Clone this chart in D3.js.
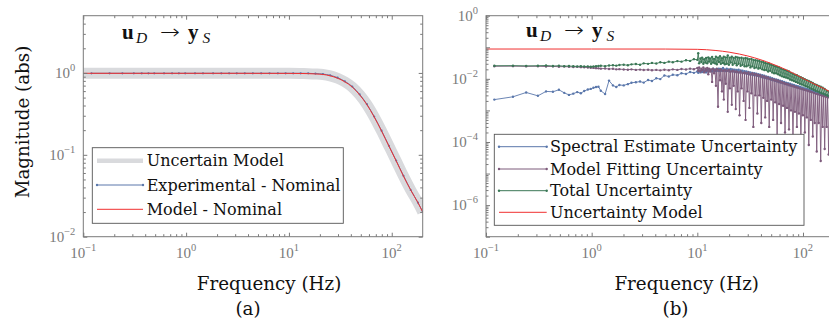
<!DOCTYPE html>
<html>
<head>
<meta charset="utf-8">
<script src="https://cdn.jsdelivr.net/npm/d3@7"></script>
<style>
  body { margin: 0; background: #fff; }
</style>
</head>
<body>
<svg id="chart" width="829" height="321"></svg>
<script>
// ---------- panel (a) data ----------
const freqModelA = [0.1, 0.3, 1, 3, 10, 13, 15.4, 18.1, 21.4, 25.2, 29.7, 35, 41.3, 48.7, 57.3, 67.5, 79.6, 93.8, 110.5, 130, 153, 180, 200];
const modelA = [0.99, 0.99, 0.99, 0.99, 0.988, 0.985, 0.98, 0.972, 0.958, 0.922, 0.862, 0.778, 0.672, 0.54, 0.41, 0.29, 0.195, 0.128, 0.084, 0.055, 0.037, 0.026, 0.02];

const freqExpA = [0.12, 0.18, 0.24, 0.31, 0.37, 0.43, 0.49, 0.61, 0.73, 0.85, 0.98, 1.22, 1.46, 1.83, 2.2, 2.62, 3.11, 3.72, 4.46, 5.37,
  6.47, 7.81, 9.28, 11, 13, 15.4, 18.1, 21.4, 25.2, 29.7, 35, 41.3, 48.7, 57.3, 67.5, 79.6, 93.8, 110.5, 130, 153, 180, 200];
const expA = [0.99, 0.99, 0.99, 0.99, 0.99, 0.99, 0.99, 0.99, 0.99, 0.99, 0.99, 0.99, 0.99, 0.99, 0.99, 0.99, 0.99, 0.99, 0.99, 0.99,
  0.99, 0.99, 0.99, 0.99, 0.99, 0.988, 0.982, 0.968, 0.935, 0.875, 0.79, 0.682, 0.548, 0.415, 0.293, 0.197, 0.129, 0.085, 0.0555, 0.0372, 0.026, 0.0201];

// ---------- panel (b) data ----------
const freqB = [0.12, 0.18, 0.24, 0.31, 0.37, 0.43, 0.49, 0.55, 0.61, 0.67, 0.73, 0.79, 0.85, 0.92, 0.98, 1.04, 1.1, 1.16, 1.22, 1.34,
  1.46, 1.59, 1.71, 1.83, 2.01, 2.2, 2.38, 2.62, 2.87, 3.11, 3.42, 3.72, 4.09, 4.46, 4.88, 5.37, 5.86, 6.47, 7.08, 7.81, 8.54, 9.28,
  10, 10.2, 10.4, 10.7, 10.9, 11.1, 11.4, 11.6, 11.9, 12.1,
  12.4, 12.7, 12.9, 13.2, 13.5, 13.8, 14.1, 14.4, 14.7, 15,
  15.3, 15.7, 16, 16.4, 16.7, 17.1, 17.5, 17.8, 18.2, 18.6,
  19, 19.4, 19.9, 20.3, 20.7, 21.2, 21.6, 22.1, 22.6, 23.1,
  23.6, 24.1, 24.6, 25.1, 25.7, 26.2, 26.8, 27.4, 28, 28.6,
  29.2, 29.8, 30.5, 31.1, 31.8, 32.5, 33.2, 33.9, 34.7, 35.4,
  36.2, 37, 37.8, 38.6, 39.4, 40.3, 41.2, 42.1, 43, 43.9,
  44.9, 45.8, 46.8, 47.9, 48.9, 50, 51.1, 52.2, 53.3, 54.5,
  55.7, 56.9, 58.1, 59.4, 60.7, 62, 63.4, 64.8, 66.2, 67.6,
  69.1, 70.6, 72.1, 73.7, 75.3, 77, 78.6, 80.4, 82.1, 83.9,
  85.7, 87.6, 89.5, 91.5, 93.5, 95.5, 97.6, 99.7, 101.9, 104.1,
  106.4, 108.7, 111.1, 113.5, 116, 118.5, 121.1, 123.8, 126.5, 129.2,
  132, 134.9, 137.9, 140.9, 144, 147.1, 150.3, 153.6, 157, 160.4,
  163.9, 167.5, 171.1, 174.9, 178.7, 182.6, 186.6, 190.6, 194.8, 199];

const spectralB = [0.0022, 0.0027, 0.0037, 0.0029, 0.0040, 0.0039, 0.0045, 0.0036, 0.0031, 0.0034,
  0.0038, 0.0035, 0.0041, 0.0046, 0.0048, 0.0052, 0.0055, 0.0056, 0.0042, 0.0033,
  0.0088, 0.0062, 0.0055, 0.0064, 0.0062, 0.0068, 0.0075, 0.0078, 0.0082, 0.0076,
  0.0092, 0.0085, 0.0104, 0.0098, 0.0128, 0.0118, 0.0135, 0.013, 0.015, 0.0142,
  0.0165, 0.0155,
  0.017, 0.0155, 0.018, 0.016, 0.0185, 0.0165, 0.019, 0.017, 0.0185, 0.016,
  0.019, 0.017, 0.02, 0.0175, 0.0195, 0.017, 0.021, 0.018, 0.02, 0.0175,
  0.02, 0.018, 0.021, 0.0175, 0.0205, 0.018, 0.022, 0.0185, 0.02, 0.0175,
  0.021, 0.018, 0.02, 0.017, 0.0205, 0.0175, 0.02, 0.017, 0.0195, 0.0165,
  0.019, 0.0165, 0.0195, 0.016, 0.0185, 0.0165, 0.018, 0.0155, 0.0175, 0.015,
  0.017, 0.0145, 0.0165, 0.014, 0.016, 0.0138, 0.0155, 0.0133, 0.015, 0.013,
  0.0145, 0.0125, 0.014, 0.012, 0.0135, 0.0115, 0.013, 0.011, 0.0125, 0.0106,
  0.012, 0.0102, 0.0115, 0.0098, 0.011, 0.0094, 0.0105, 0.009, 0.01, 0.0086,
  0.0096, 0.0082, 0.0092, 0.0078, 0.0088, 0.0075, 0.0084, 0.0072, 0.008, 0.0069,
  0.0076, 0.0066, 0.0073, 0.0063, 0.007, 0.006, 0.0067, 0.0058, 0.0064, 0.0055,
  0.0061, 0.0053, 0.0058, 0.0051, 0.0056, 0.0049, 0.0053, 0.0047, 0.0051, 0.0045,
  0.0049, 0.0043, 0.0047, 0.0041, 0.0045, 0.0039, 0.0043, 0.0038, 0.0041, 0.0036,
  0.0039, 0.0034, 0.0037, 0.0033, 0.0036, 0.0031, 0.0034, 0.003, 0.0033, 0.0029,
  0.0031, 0.0028, 0.003, 0.0027, 0.0029, 0.0026, 0.0028, 0.0025, 0.0027, 0.0024];

const fittingB = [0.025, 0.0252, 0.0248, 0.025, 0.0245, 0.0248, 0.0242, 0.0245, 0.024, 0.0238,
  0.024, 0.0235, 0.0232, 0.0228, 0.0225, 0.0222, 0.0218, 0.0215, 0.021, 0.0212,
  0.0205, 0.0208, 0.02, 0.0203, 0.0198, 0.0195, 0.02, 0.0192, 0.0196, 0.019,
  0.0194, 0.0188, 0.0192, 0.0186, 0.0195, 0.0188, 0.02, 0.0192, 0.0205, 0.0198,
  0.021, 0.0202,
  0.022, 0.018, 0.023, 0.017, 0.021, 0.019, 0.023, 0.016, 0.021, 0.018,
  0.022, 0.014, 0.021, 0.017, 0.02, 0.008, 0.021, 0.015, 0.019, 0.006,
  0.021, 0.0013, 0.019, 0.009, 0.02, 0.004, 0.018, 0.0022, 0.019, 0.007,
  0.018, 0.0009, 0.019, 0.005, 0.017, 0.0015, 0.018, 0.006, 0.017, 0.0011,
  0.017, 0.004, 0.016, 0.0007, 0.017, 0.005, 0.015, 0.002, 0.016, 0.0005,
  0.015, 0.004, 0.016, 0.0012, 0.014, 0.0035, 0.015, 0.0003, 0.014, 0.003,
  0.014, 0.0008, 0.013, 0.003, 0.013, 0.0004, 0.012, 0.0025, 0.012, 0.0006,
  0.011, 0.002, 0.011, 0.0003, 0.01, 0.0022, 0.0098, 0.0005, 0.0094, 0.0018,
  0.009, 0.00013, 0.0087, 0.0016, 0.0082, 0.0004, 0.0078, 0.0014, 0.0074, 0.0002,
  0.007, 0.0012, 0.0068, 0.00025, 0.0064, 0.001, 0.0061, 0.00012, 0.0058, 0.0009,
  0.0055, 0.0003, 0.0053, 0.0008, 0.005, 0.0001, 0.0048, 0.0007, 0.0046, 0.0002,
  0.0044, 0.0006, 0.0042, 0.00008, 0.004, 0.0005, 0.0038, 0.00015, 0.0036, 0.0004,
  0.0034, 0.00005, 0.0033, 0.0004, 0.0031, 0.000025, 0.003, 0.0003, 0.0028, 0.00006,
  0.0027, 0.0003, 0.0026, 0.00004, 0.0025, 0.00025, 0.0024, 0.00007, 0.0023, 0.0002];

const totalB = [0.026, 0.0262, 0.0258, 0.026, 0.0265, 0.0255, 0.026, 0.0252, 0.0255, 0.025,
  0.0248, 0.0252, 0.0245, 0.0248, 0.0242, 0.0246, 0.025, 0.0255, 0.026, 0.0252,
  0.0265, 0.027, 0.0262, 0.0275, 0.028, 0.027, 0.0288, 0.0295, 0.028, 0.031,
  0.0298, 0.032, 0.0305, 0.0335, 0.032, 0.035, 0.0335, 0.0365, 0.035, 0.039,
  0.037, 0.042,
  0.04, 0.065, 0.031, 0.044, 0.034, 0.047, 0.03, 0.042, 0.033, 0.046,
  0.031, 0.048, 0.035, 0.044, 0.03, 0.049, 0.033, 0.043, 0.031, 0.05,
  0.029, 0.047, 0.034, 0.052, 0.03, 0.045, 0.032, 0.05, 0.029, 0.048,
  0.03, 0.055, 0.028, 0.047, 0.033, 0.05, 0.028, 0.046, 0.031, 0.049,
  0.027, 0.048, 0.03, 0.046, 0.026, 0.047, 0.028, 0.044, 0.025, 0.046,
  0.025, 0.044, 0.027, 0.042, 0.023, 0.043, 0.025, 0.04, 0.022, 0.039,
  0.023, 0.038, 0.021, 0.037, 0.022, 0.035, 0.02, 0.034, 0.019, 0.032,
  0.019, 0.031, 0.017, 0.03, 0.018, 0.028, 0.016, 0.027, 0.015, 0.025,
  0.015, 0.024, 0.014, 0.023, 0.013, 0.021, 0.012, 0.02, 0.0115, 0.019,
  0.011, 0.018, 0.0105, 0.017, 0.0095, 0.0155, 0.009, 0.0145, 0.0085, 0.0135,
  0.008, 0.013, 0.0075, 0.012, 0.007, 0.0112, 0.0066, 0.0104, 0.0062, 0.0097,
  0.0058, 0.0091, 0.0055, 0.0085, 0.0051, 0.0079, 0.0048, 0.0074, 0.0045, 0.0068,
  0.0042, 0.0064, 0.004, 0.006, 0.0037, 0.0056, 0.0035, 0.0052, 0.0033, 0.0048,
  0.0031, 0.0042, 0.0029, 0.004, 0.0027, 0.0037, 0.0025, 0.0034, 0.0024, 0.0031];

const freqUncB = [0.1, 1, 5, 10, 15, 20, 25, 30, 35, 40, 45, 50, 60, 70, 80, 90, 100, 115, 130, 145, 160, 180, 200];
const uncModelB = [0.088, 0.088, 0.0878, 0.086, 0.079, 0.07, 0.061, 0.053, 0.046, 0.04, 0.035, 0.0305, 0.024, 0.019, 0.0153, 0.0125, 0.0103, 0.0082, 0.0067, 0.0056, 0.0048, 0.0039, 0.0033];

const legendA = ['Uncertain Model', 'Experimental - Nominal', 'Model - Nominal'];
const legendB = ['Spectral Estimate Uncertainty', 'Model Fitting Uncertainty', 'Total Uncertainty', 'Uncertainty Model'];
const xTickExps = [-1, 0, 1, 2];
const yTickExpsA = [-2, -1, 0];
const yTickExpsB = [-6, -4, -2, 0];

// ---------- styles ----------
const AXIS = '#7a7a7a';
const BLUE = '#5a77ab', PURPLE = '#7d5a7b', GREEN = '#3a7755', RED = '#f03030', BAND = '#d9dadd';
const WORD_FONT = '"DejaVu Serif", serif';
const NUM_FONT = '"Liberation Serif", "Times New Roman", Tinos, "DejaVu Serif", serif';

const svg = d3.select('#chart');
const defs = svg.append('defs');

function setupPanel(id, box, xDom, yDom) {
  const x = d3.scaleLog().domain(xDom).range([box.left, box.right]);
  const y = d3.scaleLog().domain(yDom).range([box.bottom, box.top]);
  defs.append('clipPath').attr('id', id).append('rect')
    .attr('x', box.left).attr('y', box.top)
    .attr('width', box.right - box.left).attr('height', box.bottom - box.top);
  const g = svg.append('g');
  const plot = g.append('g').attr('clip-path', `url(#${id})`);
  return { x, y, g, plot, box };
}

function logMinors(dom) {
  const out = [];
  const e0 = Math.floor(Math.log10(dom[0])), e1 = Math.ceil(Math.log10(dom[1]));
  for (let e = e0; e <= e1; e++)
    for (let m = 2; m <= 9; m++) {
      const v = m * Math.pow(10, e);
      if (v > dom[0] && v < dom[1]) out.push(v);
    }
  return out;
}

function powLabel(sel, exp) {
  sel.style('font-family', NUM_FONT);
  sel.append('tspan').text('10');
  sel.append('tspan').attr('font-size', 10.5).attr('dy', -6.8)
    .text(exp < 0 ? '\u2212' + (-exp) : String(exp));
}

function wordText(g, x, y, size, str) {
  return g.append('text').attr('x', x).attr('y', y).attr('font-size', size)
    .attr('fill', '#111').style('font-family', WORD_FONT).text(str);
}

function drawAxes(p, yMajors, yLabelExps) {
  const { x, y, g, box } = p;
  const xDom = x.domain(), yDom = y.domain();
  const xMaj = xTickExps.map(e => Math.pow(10, e)).filter(v => v >= xDom[0] && v <= xDom[1]);
  const clean = s => { s.select('.domain').remove(); s.selectAll('line').attr('stroke', AXIS); s.selectAll('text').remove(); };
  const ax = g.append('g');
  [[d3.axisBottom, box.bottom], [d3.axisTop, box.top]].forEach(([fn, ty]) => {
    ax.append('g').attr('transform', `translate(0,${ty})`)
      .call(fn(x).tickValues(xMaj).tickSize(-4)).call(clean);
    ax.append('g').attr('transform', `translate(0,${ty})`)
      .call(fn(x).tickValues(logMinors(xDom)).tickSize(-2.5)).call(clean);
  });
  [[d3.axisLeft, box.left], [d3.axisRight, box.right]].forEach(([fn, tx]) => {
    ax.append('g').attr('transform', `translate(${tx},0)`)
      .call(fn(y).tickValues(yMajors).tickSize(-4)).call(clean);
    ax.append('g').attr('transform', `translate(${tx},0)`)
      .call(fn(y).tickValues(logMinors(yDom)).tickSize(-2.5)).call(clean);
  });
  ax.append('rect')
    .attr('x', box.left).attr('y', box.top)
    .attr('width', box.right - box.left).attr('height', box.bottom - box.top)
    .attr('fill', 'none').attr('stroke', AXIS).attr('stroke-width', 1);

  xTickExps.forEach(e => {
    powLabel(g.append('text').attr('x', x(Math.pow(10, e))).attr('y', 258.3)
      .attr('text-anchor', 'middle').attr('font-size', 15).attr('fill', AXIS), e);
  });
  yLabelExps.forEach(e => {
    powLabel(g.append('text').attr('x', box.left - 8).attr('y', y(Math.pow(10, e)) + 4.8)
      .attr('text-anchor', 'end').attr('font-size', 15).attr('fill', AXIS), e);
  });
}

function drawSeries(p, fx, fy, color, width, dotR, curve) {
  const pts = fx.map((f, i) => [f, fy[i]]);
  const line = d3.line().x(d => p.x(d[0])).y(d => p.y(d[1]));
  if (curve) line.curve(curve);
  p.plot.append('path').datum(pts).attr('d', line)
    .attr('fill', 'none').attr('stroke', color).attr('stroke-width', width)
    .attr('stroke-linejoin', 'round');
  if (dotR) {
    p.plot.append('g').selectAll('circle').data(pts).join('circle')
      .attr('cx', d => p.x(d[0])).attr('cy', d => p.y(d[1])).attr('r', dotR).attr('fill', color);
  }
}

function drawLegend(g, box, items, rowYs, sx0, sx1, tx, fontSize) {
  const lg = g.append('g');
  lg.append('rect').attr('x', box.x).attr('y', box.y).attr('width', box.w).attr('height', box.h)
    .attr('fill', '#fff').attr('stroke', '#555').attr('stroke-width', 0.9);
  items.forEach((it, i) => {
    const cy = rowYs[i];
    lg.append('line').attr('x1', sx0).attr('x2', sx1).attr('y1', cy).attr('y2', cy)
      .attr('stroke', it.color).attr('stroke-width', it.width);
    if (it.dots) {
      [sx0, sx1].forEach(cx => lg.append('circle').attr('cx', cx).attr('cy', cy).attr('r', 1.2).attr('fill', it.color));
    }
    wordText(lg, tx, cy + 5.6, fontSize, it.label);
  });
}

// "u_D -> y_S" label, pieces placed to follow the typeset original
function drawTitle(g, x0, y0) {
  const t = g.append('g').attr('fill', '#111').style('font-family', NUM_FONT);
  t.append('text').attr('x', x0).attr('y', y0).attr('font-size', 21).attr('font-weight', 'bold').text('u');
  t.append('text').attr('x', x0 + 14).attr('y', y0 + 4).attr('font-size', 15.5).attr('font-style', 'italic').text('D');
  t.append('text').attr('x', x0 + 38).attr('y', y0).attr('font-size', 20)
    .attr('textLength', 20).attr('lengthAdjust', 'spacingAndGlyphs')
    .style('font-family', '"DejaVu Sans", sans-serif').style('font-weight', 200).text('\u2192');
  t.append('text').attr('x', x0 + 66).attr('y', y0).attr('font-size', 21).attr('font-weight', 'bold').text('y');
  t.append('text').attr('x', x0 + 80.5).attr('y', y0 + 4).attr('font-size', 15.5).attr('font-style', 'italic').text('S');
}

// ---------- panel (a) ----------
const pA = setupPanel('clipA', { left: 83.3, right: 422.7, top: 15.7, bottom: 236.7 }, [0.1, 200], [0.01, 5]);
drawSeries(pA, freqModelA, modelA, BAND, 11, 0, d3.curveMonotoneX);
drawSeries(pA, freqExpA, expA, BLUE, 1, 1.1, d3.curveMonotoneX);
drawSeries(pA, freqModelA, modelA, RED, 1, 0, d3.curveMonotoneX);
drawAxes(pA, [0.01, 0.1, 1], yTickExpsA);
drawTitle(pA.g, 122, 39.3);
drawLegend(pA.g, { x: 92.3, y: 147.7, w: 251, h: 75.6 }, [
  { label: legendA[0], color: BAND, width: 4.5 },
  { label: legendA[1], color: BLUE, width: 1, dots: true },
  { label: legendA[2], color: RED, width: 1 }
], [160.7, 185, 209.3], 97, 143, 146.7, 16);

wordText(pA.g, 269, 290, 18.3, 'Frequency (Hz)').attr('text-anchor', 'middle');
wordText(pA.g, 0, 0, 18.3, 'Magnitude (abs)').attr('text-anchor', 'middle')
  .attr('transform', 'translate(29.3,122) rotate(-90)');
wordText(pA.g, 248, 315, 18.3, '(a)').attr('text-anchor', 'middle');

// ---------- panel (b) ----------
const pB = setupPanel('clipB', { left: 486, right: 834.8, top: 15.7, bottom: 236.7 }, [0.1, 200], [1e-7, 1]);
const decadesB = d3.range(-7, 1).map(e => Math.pow(10, e));
drawSeries(pB, freqB, spectralB, BLUE, 0.9, 1.2);
drawSeries(pB, freqB, fittingB, PURPLE, 0.9, 1.2);
drawSeries(pB, freqB, totalB, GREEN, 0.9, 1.2);
drawSeries(pB, freqUncB, uncModelB, RED, 1, 0, d3.curveMonotoneX);
drawAxes(pB, decadesB, yTickExpsB);
drawTitle(pB.g, 526, 37.3);
drawLegend(pB.g, { x: 494.3, y: 134.3, w: 309.7, h: 91 }, [
  { label: legendB[0], color: BLUE, width: 1, dots: true },
  { label: legendB[1], color: PURPLE, width: 1, dots: true },
  { label: legendB[2], color: GREEN, width: 1, dots: true },
  { label: legendB[3], color: RED, width: 1 }
], [146.7, 169, 190.7, 212.3], 499, 546.7, 550, 16);

wordText(pB.g, 686.7, 290, 18.3, 'Frequency (Hz)').attr('text-anchor', 'middle');
wordText(pB.g, 675.5, 315, 18.3, '(b)').attr('text-anchor', 'middle');
</script>
</body>
</html>
